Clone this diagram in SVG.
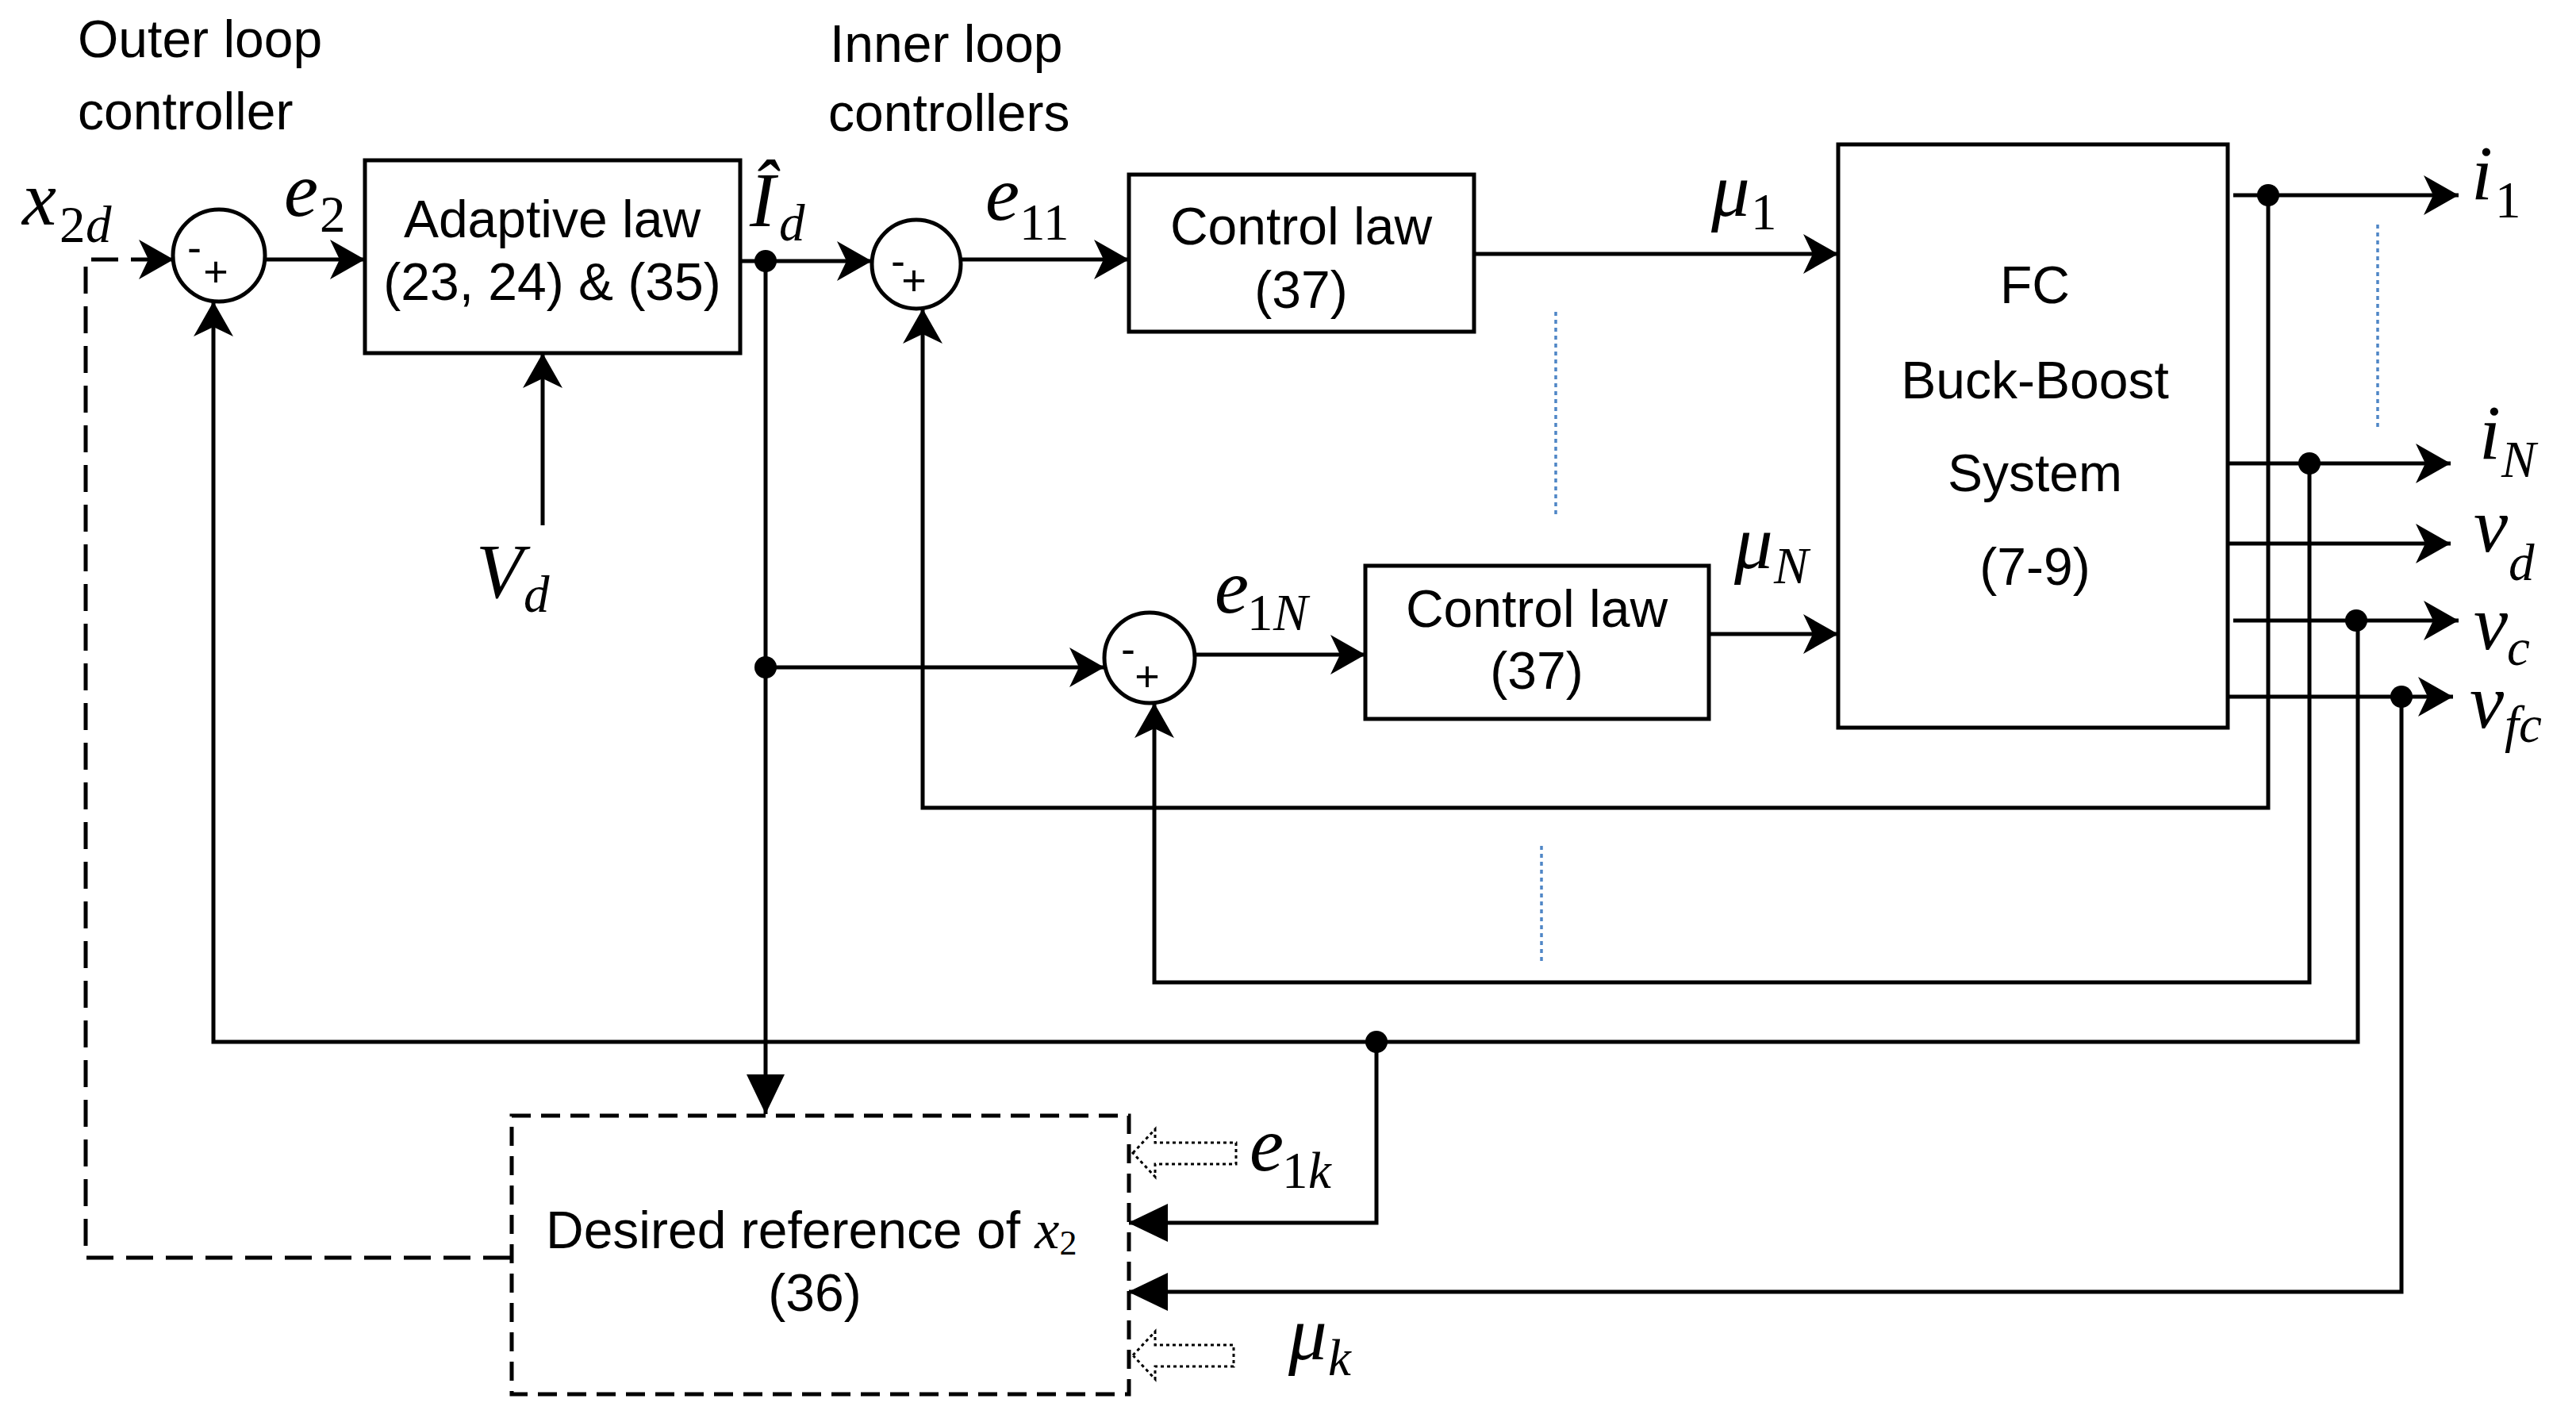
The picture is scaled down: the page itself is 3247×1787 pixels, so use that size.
<svg xmlns="http://www.w3.org/2000/svg" width="3247" height="1787" viewBox="0 0 3247 1787">
<style>
.t{font-family:"Liberation Sans",Arial,sans-serif;font-size:66px;fill:#000}
.m{font-family:"Liberation Serif","Times New Roman",serif;font-style:italic;font-size:97px;fill:#000}
.s{font-family:"Liberation Serif","Times New Roman",serif;font-style:italic;font-size:65px;fill:#000}
.d{font-family:"Liberation Serif","Times New Roman",serif;font-style:normal;font-size:65px;fill:#000}
.sg{font-family:"Liberation Sans",Arial,sans-serif;font-size:54px;fill:#000}
.box{fill:#fff;stroke:#000;stroke-width:5}
.ln{fill:none;stroke:#000;stroke-width:5}
.ar{marker-end:url(#ah)}
.tr{marker-end:url(#tri)}
.dash{fill:none;stroke:#000;stroke-width:5;stroke-dasharray:34 16}
.dbox{fill:#fff;stroke:#000;stroke-width:5;stroke-dasharray:24 13}
.blue{fill:none;stroke:#4f86c6;stroke-width:3.5;stroke-dasharray:5 5}
.hol{fill:#fff;stroke:#000;stroke-width:3;stroke-dasharray:4 4}
</style>
<defs>
<marker id="ah" markerUnits="userSpaceOnUse" markerWidth="44" markerHeight="50" viewBox="0 0 44 50" refX="44" refY="25" orient="auto"><path d="M0,0 L44,25 L0,50 L12,25 Z" fill="#000"/></marker>
<marker id="tri" markerUnits="userSpaceOnUse" markerWidth="50" markerHeight="48" viewBox="0 0 50 48" refX="50" refY="24" orient="auto"><path d="M0,0 L50,24 L0,48 Z" fill="#000"/></marker>
</defs>
<rect width="3247" height="1787" fill="#fff"/>

<g id="labels-top">
<text class="t" x="98" y="72">Outer loop</text>
<text class="t" x="98" y="163">controller</text>
<text class="t" x="1046" y="78">Inner loop</text>
<text class="t" x="1044" y="165">controllers</text>
</g>

<g id="connectors">
<path class="dash" d="M643,1585 H108 V327 H218"/>
<path class="ln ar" d="M218,327 H219"/>
<path class="ln ar" d="M334,327 H460"/>
<path class="ln ar" d="M933,329 H1099"/>
<path class="ln tr" d="M965,329 V1404"/>
<path class="ln ar" d="M965,841 H1392"/>
<path class="ln ar" d="M1211,327 H1423"/>
<path class="ln ar" d="M1506,825 H1721"/>
<path class="ln ar" d="M1858,320 H2317"/>
<path class="ln ar" d="M2154,799 H2317"/>
<path class="ln ar" d="M684,662 V445"/>
<path class="ln ar" d="M2815,246 H3099"/>
<path class="ln ar" d="M2808,584 H3089"/>
<path class="ln ar" d="M2808,685 H3089"/>
<path class="ln ar" d="M2815,782 H3099"/>
<path class="ln ar" d="M2808,878 H3092"/>
<path class="ln ar" d="M2859,246 V1018 H1163 V389"/>
<path class="ln ar" d="M2911,584 V1238 H1455 V886"/>
<path class="ln ar" d="M2972,782 V1313 H269 V380"/>
<path class="ln tr" d="M1735,1313 V1541 H1422"/>
<path class="ln tr" d="M3027,878 V1628 H1422"/>
<circle cx="965" cy="329" r="14"/>
<circle cx="965" cy="841" r="14"/>
<circle cx="2859" cy="246" r="14"/>
<circle cx="2911" cy="584" r="14"/>
<circle cx="2970" cy="782" r="14"/>
<circle cx="3027" cy="878" r="14"/>
<circle cx="1735" cy="1313" r="14"/>
<polygon class="hol" points="1428,1453 1456,1423 1456,1440 1558,1440 1558,1467 1456,1467 1456,1483"/>
<polygon class="hol" points="1428,1708 1456,1678 1456,1695 1555,1695 1555,1722 1456,1722 1456,1738"/>
<line class="blue" x1="1961" y1="393" x2="1961" y2="652"/>
<line class="blue" x1="1943" y1="1066" x2="1943" y2="1212"/>
<line class="blue" x1="2997" y1="283" x2="2997" y2="540"/>
</g>

<g id="sum1">
<circle class="box" cx="276" cy="322" r="58"/>
<text class="sg" x="245" y="330" text-anchor="middle">-</text>
<text class="sg" x="272" y="361" text-anchor="middle">+</text>
</g>
<g id="sum2">
<circle class="box" cx="1155" cy="333" r="56"/>
<text class="sg" x="1132" y="347" text-anchor="middle">-</text>
<text class="sg" x="1152" y="372" text-anchor="middle">+</text>
</g>
<g id="sum3">
<circle class="box" cx="1449" cy="829" r="57"/>
<text class="sg" x="1422" y="836" text-anchor="middle">-</text>
<text class="sg" x="1446" y="871" text-anchor="middle">+</text>
</g>

<g id="adaptive">
<rect class="box" x="460" y="202" width="473" height="243"/>
<text class="t" x="696" y="299" text-anchor="middle">Adaptive law</text>
<text class="t" x="696" y="378" text-anchor="middle">(23, 24) &amp; (35)</text>
</g>
<g id="control1">
<rect class="box" x="1423" y="220" width="435" height="198"/>
<text class="t" x="1640" y="308" text-anchor="middle">Control law</text>
<text class="t" x="1640" y="388" text-anchor="middle">(37)</text>
</g>
<g id="control2">
<rect class="box" x="1721" y="713" width="433" height="193"/>
<text class="t" x="1937" y="790" text-anchor="middle">Control law</text>
<text class="t" x="1937" y="868" text-anchor="middle">(37)</text>
</g>
<g id="fc">
<rect class="box" x="2317" y="182" width="491" height="735"/>
<text class="t" x="2565" y="382" text-anchor="middle">FC</text>
<text class="t" x="2565" y="502" text-anchor="middle">Buck-Boost</text>
<text class="t" x="2565" y="619" text-anchor="middle">System</text>
<text class="t" x="2565" y="737" text-anchor="middle">(7-9)</text>
</g>
<g id="desired">
<rect class="dbox" x="645" y="1406" width="778" height="351"/>
<text class="t" x="688" y="1573" font-size="64">Desired reference of <tspan font-family="Liberation Serif" font-style="italic" font-size="70">x</tspan><tspan font-family="Liberation Serif" font-size="44" dy="8">2</tspan></text>
<text class="t" x="1027" y="1652" text-anchor="middle">(36)</text>
</g>

<g id="math-labels">
<text class="m" x="28" y="283">x</text><text class="d" x="75" y="305">2</text><text class="s" x="108" y="305">d</text>
<text class="m" x="358" y="272">e</text><text class="d" x="403" y="292">2</text>
<text class="m" x="945" y="285">Î</text><text class="s" x="982" y="303">d</text>
<text class="m" x="1242" y="277">e</text><text class="d" x="1285" y="302">11</text>
<text class="m" x="2157" y="272">μ</text><text class="d" x="2207" y="289">1</text>
<text class="m" x="2186" y="716">μ</text><text class="s" x="2236" y="735">N</text>
<text class="m" x="1531" y="772">e</text><text class="d" x="1572" y="794">1</text><text class="s" x="1605" y="794">N</text>
<text class="m" x="600" y="753">V</text><text class="s" x="660" y="771">d</text>
<text class="m" x="3115" y="251">i</text><text class="d" x="3145" y="274">1</text>
<text class="m" x="3125" y="578">i</text><text class="s" x="3153" y="601">N</text>
<text class="m" x="3118" y="695">v</text><text class="s" x="3162" y="731">d</text>
<text class="m" x="3118" y="818">v</text><text class="s" x="3160" y="838">c</text>
<text class="m" x="3113" y="917">v</text><text class="s" x="3157" y="935">fc</text>
<text class="m" x="1575" y="1475">e</text><text class="d" x="1616" y="1497">1</text><text class="s" x="1649" y="1497">k</text>
<text class="m" x="1624" y="1713">μ</text><text class="s" x="1674" y="1733">k</text>
</g>
</svg>
